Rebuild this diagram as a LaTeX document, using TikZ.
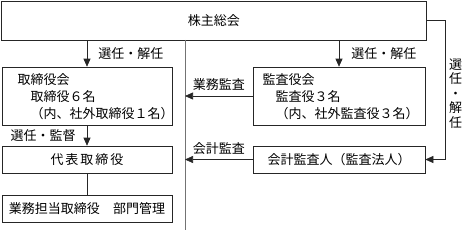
\documentclass[tikz,border=0pt]{standalone}
\usepackage{fontspec}
\newfontfamily\jpfont{Noto Sans CJK JP}
\usetikzlibrary{arrows.meta}

\begin{document}
\begin{tikzpicture}[x=1pt, y=-1pt, line width=0.6pt, draw=black!85,
  every node/.style={font=\jpfont\fontsize{13}{17}\selectfont, inner sep=0pt},
  box/.style={draw=black!85, rectangle, line width=0.6pt},
  arr/.style={-{Triangle[length=8pt,width=7pt]}}]

  \useasboundingbox (0,0) rectangle (465,230);

  % --- boxes ---
  \node[box, minimum width=424.5, minimum height=39] (gm) at (213.75,20.5) {株主総会};
  \node[box, minimum width=170, minimum height=58] (board) at (87,96) {};
  \node[box, minimum width=170, minimum height=27] (rep) at (87,159.5)
    {代\kern2pt 表\kern2pt 取\kern2pt 締\kern2pt 役};
  \node[box, minimum width=170, minimum height=27] (exec) at (87,208.5)
    {業務担当取締役　部門管理};
  \node[box, minimum width=172, minimum height=58] (audit) at (339,96) {};
  \node[box, minimum width=172, minimum height=27] (acct) at (339,159.5)
    {会計監査人（監査法人）};

  % --- box texts ---
  \node[anchor=north west, align=left] (boardtxt) at ([xshift=15.5pt,yshift=-7pt]board.north west)
    {取締役会\\　取締役６名\\　（内、社外取締役１名）};
  \node[anchor=north west, align=left] (audittxt) at ([xshift=9.5pt,yshift=-7pt]audit.north west)
    {監査役会\\　監査役３名\\　（内、社外監査役３名）};

  % --- election arrows ---
  \draw[arr] (gm.south -| board.north) -- (board.north)
    node[midway, right=11pt] (elect1) {選任・解任};
  \draw[arr] (gm.south -| audit.north) -- (audit.north)
    node[midway, right=12pt] (elect2) {選任・解任};
  \draw[arr] (board.south) -- (rep.north)
    node[midway, left=11pt] (supervise) {選任・監督};
  \draw (rep.south) -- (exec.north);

  % --- audit line ---
  \coordinate (split) at (185,40);
  \coordinate (splitend) at (185,230);
  \draw[black!55, line width=1pt] (split) -- (splitend);
  \draw[arr] (audit.west) -- (audit.west -| split)
    node[midway, above=5pt] (bizaudit) {業務監査};
  \draw[arr] (acct.west) -- (acct.west -| split)
    node[midway, above=5pt] (acctaudit) {会計監査};

  % --- right side ---
  \coordinate (bend) at (445,0);
  \draw[arr] (gm.east) -- (gm.east -| bend) -- (acct.east -| bend) -- (acct.east);
  \node[align=center, font=\jpfont\fontsize{13}{14.6}\selectfont] (elect3) at (455.5,93.5)
    {選\\任\\・\\解\\任};

\end{tikzpicture}
\end{document}
